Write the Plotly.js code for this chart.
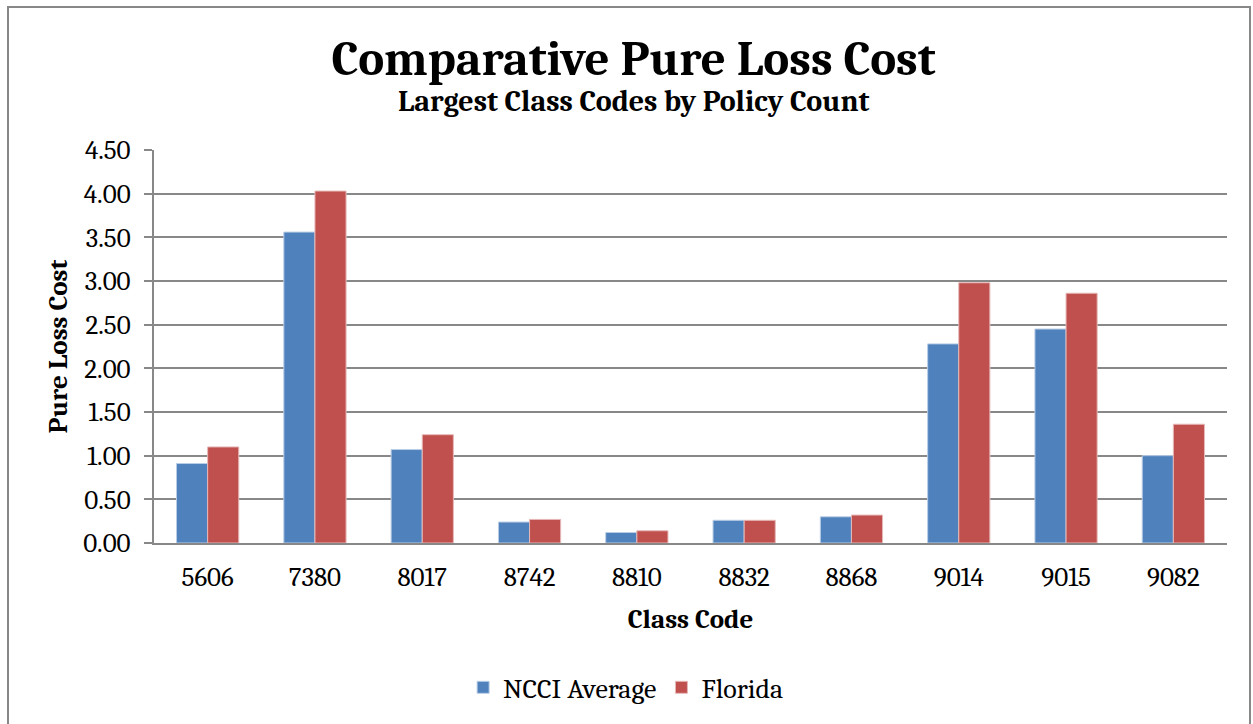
<!DOCTYPE html>
<html>
<head>
<meta charset="utf-8">
<script src="https://cdn.plot.ly/plotly-3.0.1.min.js"></script>
<style>
html,body{margin:0;padding:0;background:#fff;}
#wrap{position:relative;width:1253px;height:724px;}
#chart{width:1253px;height:724px;}
#frame{position:absolute;left:7px;top:6px;width:1240px;height:730px;border:2px solid #888;pointer-events:none;}
</style>
</head>
<body>
<div id="wrap"><div id="chart"></div><div id="frame"></div></div>
<script>
const categories = ["5606","7380","8017","8742","8810","8832","8868","9014","9015","9082"];
const ncciAverage = [0.91,3.56,1.07,0.24,0.12,0.26,0.30,2.28,2.45,1.00];
const florida = [1.10,4.03,1.24,0.27,0.14,0.26,0.32,2.98,2.86,1.36];
const seriesNames = ["NCCI Average","Florida"];
const yTicks = [0,0.5,1,1.5,2,2.5,3,3.5,4,4.5];

const font = "Cambria, 'Liberation Serif', 'DejaVu Serif', serif";

const traces = [
  {type:"bar", name:seriesNames[0], x:categories, y:ncciAverage,
   marker:{color:"#4F81BD", line:{color:"#B9CDE5", width:1}}},
  {type:"bar", name:seriesNames[1], x:categories, y:florida,
   marker:{color:"#C0504D", line:{color:"#E6B9B8", width:1}}}
];

const layout = {
  width:1253, height:724,
  paper_bgcolor:"#fff", plot_bgcolor:"#fff",
  margin:{l:154, r:26, t:150, b:178},
  barmode:"group", bargap:0.42, bargroupgap:0,
  font:{family:font, color:"#000"},
  title:{text:"<b>Comparative Pure Loss Cost</b>", font:{size:49, family:font, color:"#000"},
         x:0.447, xanchor:"center", y:0.92, yanchor:"middle", xref:"paper", yref:"container"},
  annotations:[{text:"<b>Largest Class Codes by Policy Count</b>", xref:"paper", yref:"paper",
    x:0.447, y:1.124, xanchor:"center", yanchor:"middle", showarrow:false,
    font:{size:30, family:font, color:"#000"}}],
  xaxis:{type:"category", tickfont:{size:27, family:font, color:"#000"}, ticklabelstandoff:9,
    showline:true, linecolor:"#888", linewidth:2, ticks:"", showgrid:false,
    title:{text:"<b>Class Code</b>", font:{size:27, family:font, color:"#000"}, standoff:17}},
  yaxis:{range:[0,4.5], tickvals:yTicks, tickformat:".2f",
    tickfont:{size:27, family:font, color:"#000"}, ticklabelstandoff:8,
    showline:true, linecolor:"#888", linewidth:2,
    ticks:"outside", ticklen:8, tickcolor:"#888", tickwidth:2,
    showgrid:true, gridcolor:"#888", gridwidth:2, zeroline:false,
    title:{text:"<b>Pure Loss Cost</b>", font:{size:27, family:font, color:"#000"}, standoff:8}},
  legend:{orientation:"h", x:0.44, xanchor:"center", y:-0.368, yanchor:"middle",
    font:{size:28, family:font, color:"#000"}, itemwidth:30, traceorder:"normal"},
  showlegend:true
};

Plotly.newPlot("chart", traces, layout, {displayModeBar:false, staticPlot:true});
</script>
</body>
</html>
